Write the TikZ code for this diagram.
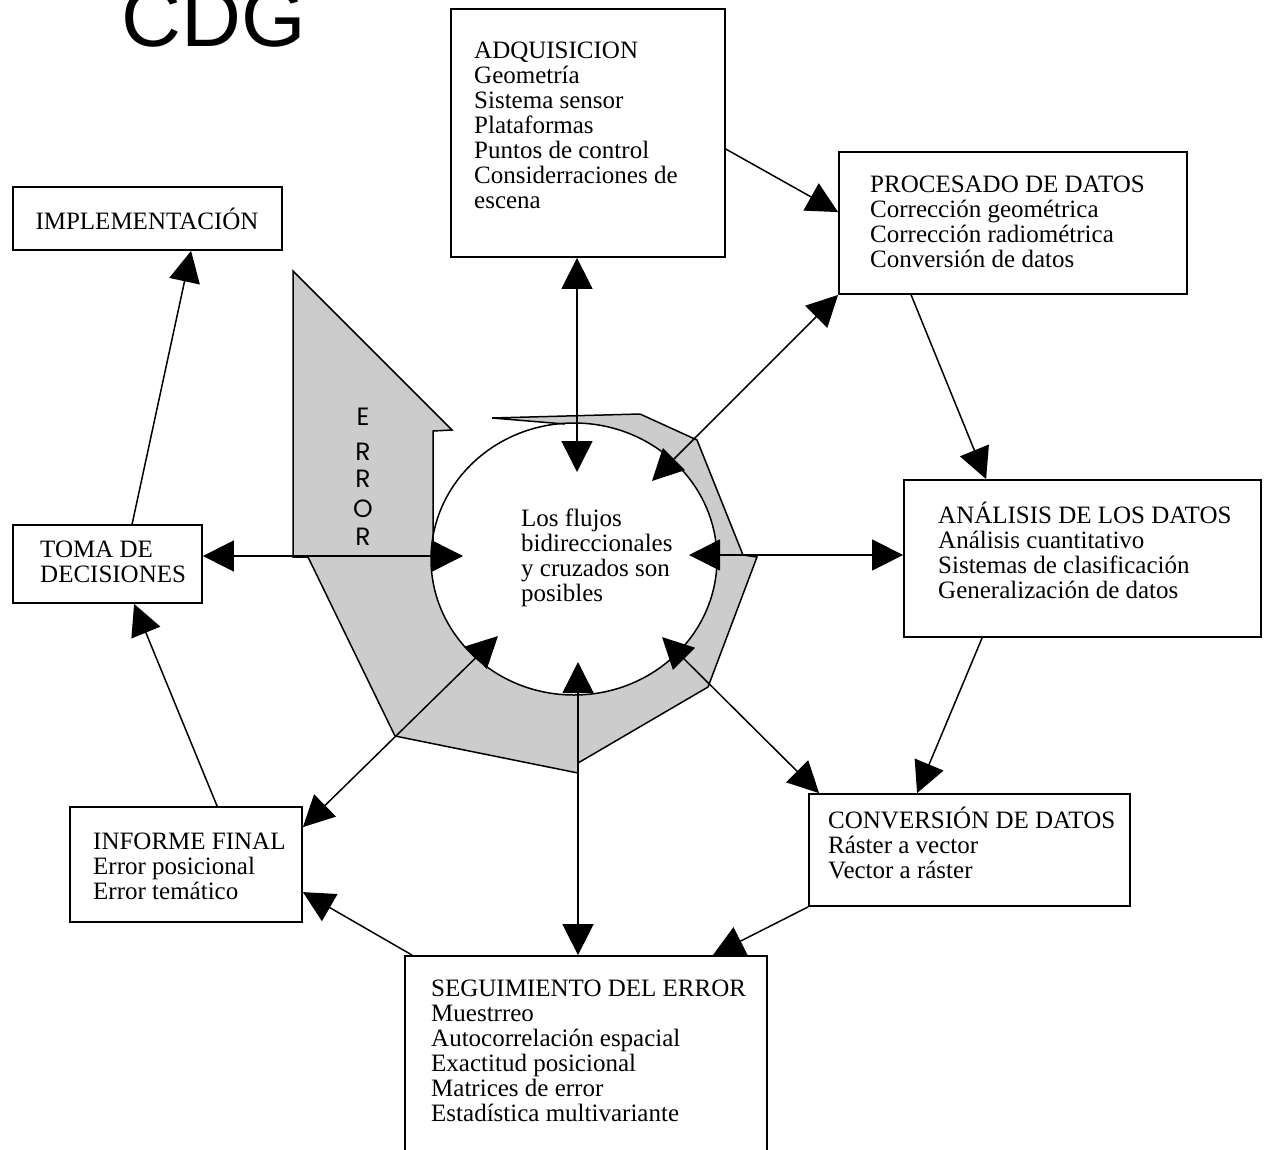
\documentclass[tikz,border=0pt]{standalone}
\usepackage{fontspec}
\setmainfont{Liberation Serif}
\newfontfamily\titlefont{Liberation Sans}
\newfontfamily\errfont{Poppins}
\usetikzlibrary{arrows.meta,calc,shapes.geometric}
\definecolor{bandgray}{RGB}{204,204,204}
\begin{document}
\begin{tikzpicture}[x=1pt,y=-1pt,
  box/.style={draw,line width=1.8pt,fill=white,inner sep=0pt,rectangle},
  txt/.style={inner sep=0pt,anchor=north west,align=left,font=\fontsize{25}{25}\selectfont},
  link/.style={line width=1.5pt,-{Triangle[length=31pt,width=31pt]}},
  both/.style={line width=1.5pt,{Triangle[length=31pt,width=31pt]}-{Triangle[length=31pt,width=31pt]}},
  letter/.style={inner sep=0pt,anchor=base,font=\errfont\fontsize{25}{25}\selectfont},
]
\clip (0,0) rectangle (1264,1149);
\fill[white] (0,0) rectangle (1264,1149);

% title
\node[anchor=base west,inner sep=0pt,font=\titlefont\fontsize{83}{83}\selectfont] (title) at (121,46) {CDG};

% grey error band around the hub
\fill[bandgray] (565,424) -- (492,418) -- (640,414) -- (697,440) -- (743,555) -- (757,557)
  -- (708,687) -- (578,763) -- (578,773) -- (395,736) -- (308,557) -- (293,557)
  -- (293,271) -- (452,430) -- (433,431) -- (433,545) -- (574,559) -- cycle;
% central hub
\node[draw,line width=1.5pt,fill=white,ellipse,minimum width=286pt,minimum height=272pt,inner sep=0pt] (hub) at (574,559) {};
\draw[line width=1.5pt,line join=miter] (565,424) -- (492,418) -- (640,414) -- (697,440) -- (743,555) -- (757,557)
  -- (708,687) -- (578,763) -- (578,773) -- (395,736) -- (308,557) -- (293,557)
  -- (293,271) -- (452,430) -- (433,431) -- (433,545);
\node[letter] (e1) at (363,425) {E};
\node[letter] (e2) at (363,460) {R};
\node[letter] (e3) at (363,487) {R};
\node[letter] (e4) at (363,517) {O};
\node[letter] (e5) at (363,545) {R};
\node[txt] (hubtext) at (521,503) {\rule{0pt}{23pt}Los flujos\\bidireccionales\\y cruzados son\\posibles};

% arrow ends inside the hub
\coordinate (hN) at (577,472);
\coordinate (hNE) at (652,481);
\coordinate (hE) at (689,555);
\coordinate (hSE) at (662,637);
\coordinate (hS) at (578,662);
\coordinate (hSW) at (498,636);
\coordinate (hW) at (463,556);

% boxes
\node[box,minimum width=269pt,minimum height=63pt] (impl) at (147.5,218.5) {};
\node[box,minimum width=274pt,minimum height=248pt] (adq) at (588,133) {};
\node[box,minimum width=348pt,minimum height=142pt] (proc) at (1013,223) {};
\node[box,minimum width=357pt,minimum height=157pt] (anal) at (1082.5,558.5) {};
\node[box,minimum width=321pt,minimum height=112pt] (conv) at (969.5,850) {};
\node[box,minimum width=362pt,minimum height=214pt] (seg) at (586,1063) {};
\node[box,minimum width=232pt,minimum height=115pt] (inf) at (186,864.5) {};
\node[box,minimum width=189pt,minimum height=78pt] (toma) at (107.5,564) {};

% box texts
\node[inner sep=0pt,anchor=base,font=\fontsize{25}{25}\selectfont] (implT) at (147,229) {IMPLEMENTACIÓN};
\node[txt] (adqT) at (474,35) {\rule{0pt}{23pt}ADQUISICION\\Geometría\\Sistema sensor\\Plataformas\\Puntos de control\\Considerraciones de\\escena};
\node[txt] (procT) at (870,169) {\rule{0pt}{23pt}PROCESADO DE DATOS\\Corrección geométrica\\Corrección radiométrica\\Conversión de datos};
\node[txt] (analT) at (938,500) {\rule{0pt}{23pt}ANÁLISIS DE LOS DATOS\\Análisis cuantitativo\\Sistemas de clasificación\\Generalización de datos};
\node[txt] (convT) at (828,805) {\rule{0pt}{23pt}CONVERSIÓN DE DATOS\\Ráster a vector\\Vector a ráster};
\node[txt] (segT) at (431,973) {\rule{0pt}{23pt}SEGUIMIENTO DEL ERROR\\Muestrreo\\Autocorrelación espacial\\Exactitud posicional\\Matrices de error\\Estadística multivariante};
\node[txt] (infT) at (93,826) {\rule{0pt}{23pt}INFORME FINAL\\Error posicional\\Error temático};
\node[txt] (tomaT) at (40,534) {\rule{0pt}{23pt}TOMA DE\\DECISIONES};

% two-way links between the hub and the stages
\draw[both] (adq.south -| hN) -- (hN);
\draw[both] (proc.south west) -- (hNE);
\draw[both] (anal.west |- hE) -- (hE);
\draw[both] ([xshift=11pt]conv.north west) -- (hSE);
\draw[both] (seg.north -| hS) -- (hS);
\draw[both] ([yshift=-21pt]inf.north east) -- (hSW);
\draw[both] (toma.east |- hW) -- (hW);

% the cycle of stages
\draw[link] ([yshift=-141pt]adq.north east) -- ([yshift=-61pt]proc.north west);
\draw[link] ([xshift=73pt]proc.south west) -- ([xshift=83pt]anal.north west);
\draw[link] ([xshift=79pt]anal.south west) -- ([xshift=109pt]conv.north west);
\draw[link] (conv.south west) -- ([xshift=-55pt]seg.north east);
\draw[link] ([xshift=8pt]seg.north west) -- ([yshift=-86pt]inf.north east);
\draw[link] ([xshift=148pt]inf.north west) -- ([xshift=122pt]toma.south west);
\draw[link] ([xshift=120pt]toma.north west) -- ([xshift=179pt]impl.south west);
\end{tikzpicture}
\end{document}
